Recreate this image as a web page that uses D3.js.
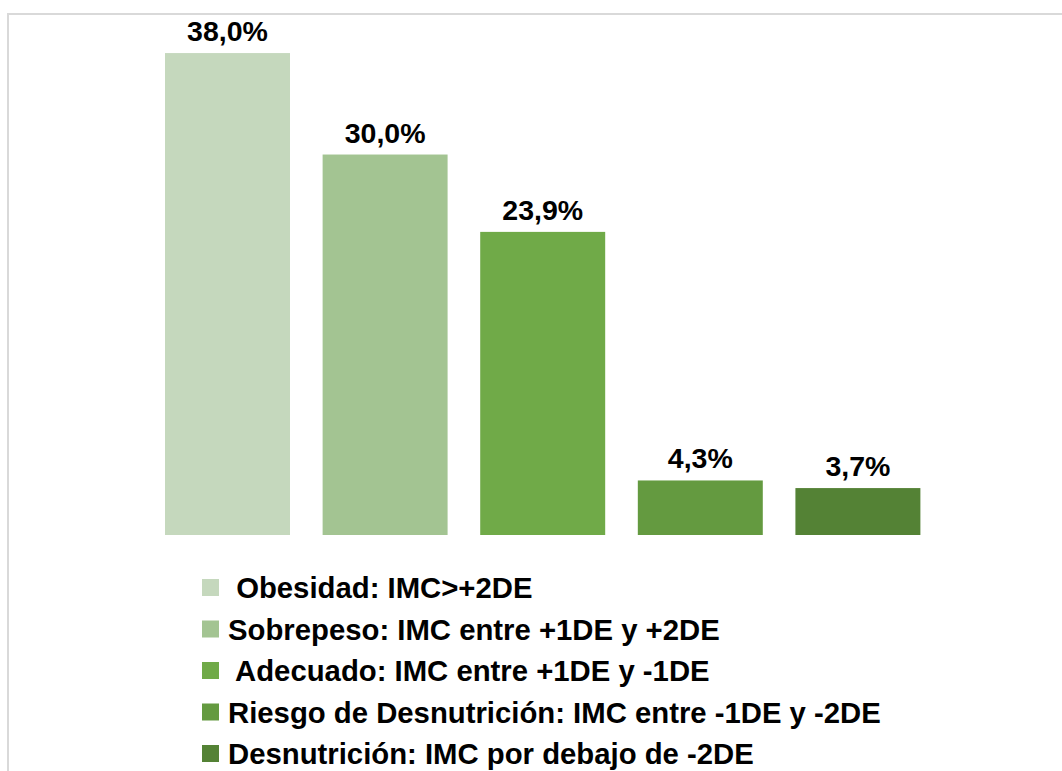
<!DOCTYPE html>
<html>
<head>
<meta charset="utf-8">
<script src="https://cdn.jsdelivr.net/npm/d3@7"></script>
<style>
  html, body { margin: 0; padding: 0; background: #fff; }
  svg { display: block; }
  text { font-family: "Liberation Sans", Arial, sans-serif; font-weight: bold; fill: #000; }
</style>
</head>
<body>
<svg id="chart" width="1062" height="771"></svg>
<script>
const categories = [
  " Obesidad: IMC>+2DE",
  "Sobrepeso: IMC entre +1DE y +2DE",
  " Adecuado: IMC entre +1DE y -1DE",
  "Riesgo de Desnutrición: IMC entre -1DE y -2DE",
  "Desnutrición: IMC por debajo de -2DE"
];
const values = [38.0, 30.0, 23.9, 4.3, 3.7];
const colors = ["#C5D8BD", "#A3C492", "#70AA48", "#649A40", "#548235"];

const svg = d3.select("#chart");

// outer frame (extends beyond right and bottom edges)
svg.append("rect")
  .attr("x", 8).attr("y", 14)
  .attr("width", 1200).attr("height", 900)
  .attr("fill", "none")
  .attr("stroke", "#d9d9d9")
  .attr("stroke-width", 2);

const x = d3.scaleBand()
  .domain(d3.range(categories.length))
  .range([148.7, 936.7])
  .paddingInner(0.207)
  .paddingOuter(0.1035);

const y = d3.scaleLinear()
  .domain([0, 40])
  .range([535, 27.7]);

svg.append("g").selectAll("rect")
  .data(values)
  .join("rect")
  .attr("x", (d, i) => x(i))
  .attr("y", d => y(d))
  .attr("width", x.bandwidth())
  .attr("height", d => y(0) - y(d))
  .attr("fill", (d, i) => colors[i]);

const fmt = v => v.toFixed(1).replace(".", ",") + "%";

svg.append("g").selectAll("text")
  .data(values)
  .join("text")
  .attr("x", (d, i) => x(i) + x.bandwidth() / 2)
  .attr("y", d => y(d) - 12)
  .attr("text-anchor", "middle")
  .style("font-size", "28.5px")
  .text(d => fmt(d));

// legend
const legend = svg.append("g").selectAll("g")
  .data(categories)
  .join("g")
  .attr("transform", (d, i) => `translate(202, ${579 + i * 41.5})`);

legend.append("rect")
  .attr("width", 17).attr("height", 17)
  .attr("fill", (d, i) => colors[i]);

legend.append("text")
  .attr("x", 26)
  .attr("y", 19)
  .attr("xml:space", "preserve")
  .style("white-space", "pre")
  .style("font-size", "29.3px")
  .text(d => d);
</script>
</body>
</html>
